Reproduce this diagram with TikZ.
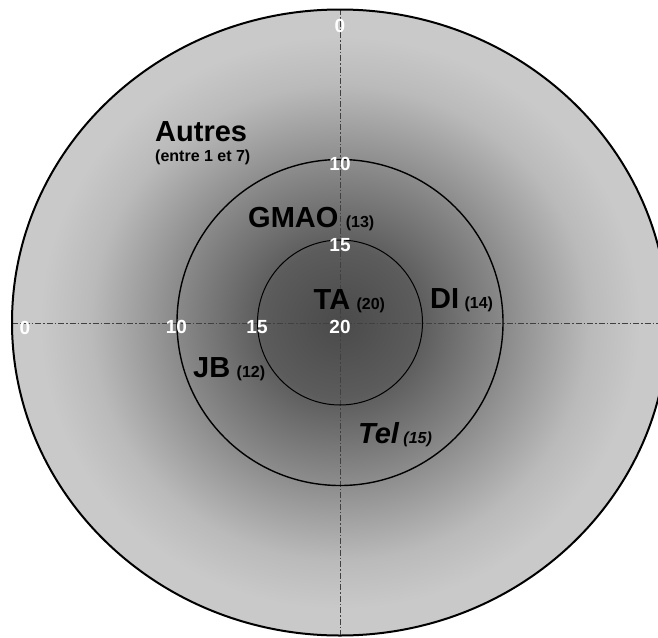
\documentclass[tikz,border=0pt]{standalone}
\usepackage{fontspec}
\setmainfont{Liberation Sans}
\usetikzlibrary{positioning}

\definecolor{coreGray}{gray}{0.29}
\definecolor{innerGray}{gray}{0.36}
\definecolor{midGray}{gray}{0.54}
\definecolor{edgeGray}{gray}{0.73}
\definecolor{outerGray}{gray}{0.79}
\pgfdeclareradialshading{ringshade}{\pgfpoint{0bp}{0bp}}{%
  color(0bp)=(coreGray); color(6bp)=(innerGray); color(12.5bp)=(midGray);
  color(19bp)=(edgeGray); color(23bp)=(outerGray); color(50bp)=(outerGray)}

\begin{document}
\begin{tikzpicture}[x=1pt, y=-1pt,
    ticklabel/.style={text=white, font=\fontsize{19}{19}\selectfont\bfseries, inner sep=0pt},
    team/.style={font=\fontsize{29}{29}\selectfont\bfseries, inner sep=0pt, anchor=base west},
    score/.style={font=\fontsize{16}{16}\selectfont\bfseries, inner sep=0pt, anchor=base west},
    axisline/.style={black!75, line width=0.8pt, dash pattern=on 6pt off 2pt on 1.5pt off 2pt}]
        \useasboundingbox (0,0) rectangle (658,637);
        \coordinate (c) at (340,322.5);

        % rings
        \shade[shading=ringshade] (c) ellipse [x radius=328, y radius=313];

        \coordinate (top) at (340,9);
        \coordinate (bottom) at (340,636);
        \coordinate (left) at (12,323);
        \coordinate (right) at (672,323);
        \draw[axisline] (top) -- (bottom);
        \draw[axisline] (left) -- (right);

        \draw[line width=2pt] (c) ellipse [x radius=328, y radius=313];
        \draw[line width=1.4pt] (c) circle [radius=163];
        \draw[line width=1pt] (c) circle [radius=82.5];

        % scale
        \node[ticklabel] (t0) at (340,26) {0};
        \node[ticklabel] (t10) at (340,164) {10};
        \node[ticklabel] (t15) at (340,245) {15};
        \node[ticklabel] (t20) at (340,327) {20};
        \node[ticklabel] (l0) at (25,328) {0};
        \node[ticklabel] (l10) at (176.5,327) {10};
        \node[ticklabel] (l15) at (257,327) {15};

        % teams
        \node[team] (autres) at (155,141) {Autres};
        \node[score] (autresnote) at ([yshift=-20pt]autres.base west) {(entre 1 et 7)};
        \node[team] (gmao) at (248,227) {GMAO};
        \node[score] (gmaoscore) at ([xshift=7pt]gmao.base east) {(13)};
        \node[team] (ta) at (313.5,309.5) {TA};
        \node[score] (tascore) at ([xshift=6pt]ta.base east) {(20)};
        \node[team] (di) at (430,308.5) {DI};
        \node[score] (discore) at ([xshift=5pt]di.base east) {(14)};
        \node[team] (jb) at (193,377) {JB};
        \node[score] (jbscore) at ([xshift=6pt]jb.base east) {(12)};
        \node[team] (tel) at (358,443.5) {\itshape Tel};
        \node[score] (telscore) at ([xshift=4pt]tel.base east) {\itshape(15)};
\end{tikzpicture}
\end{document}
